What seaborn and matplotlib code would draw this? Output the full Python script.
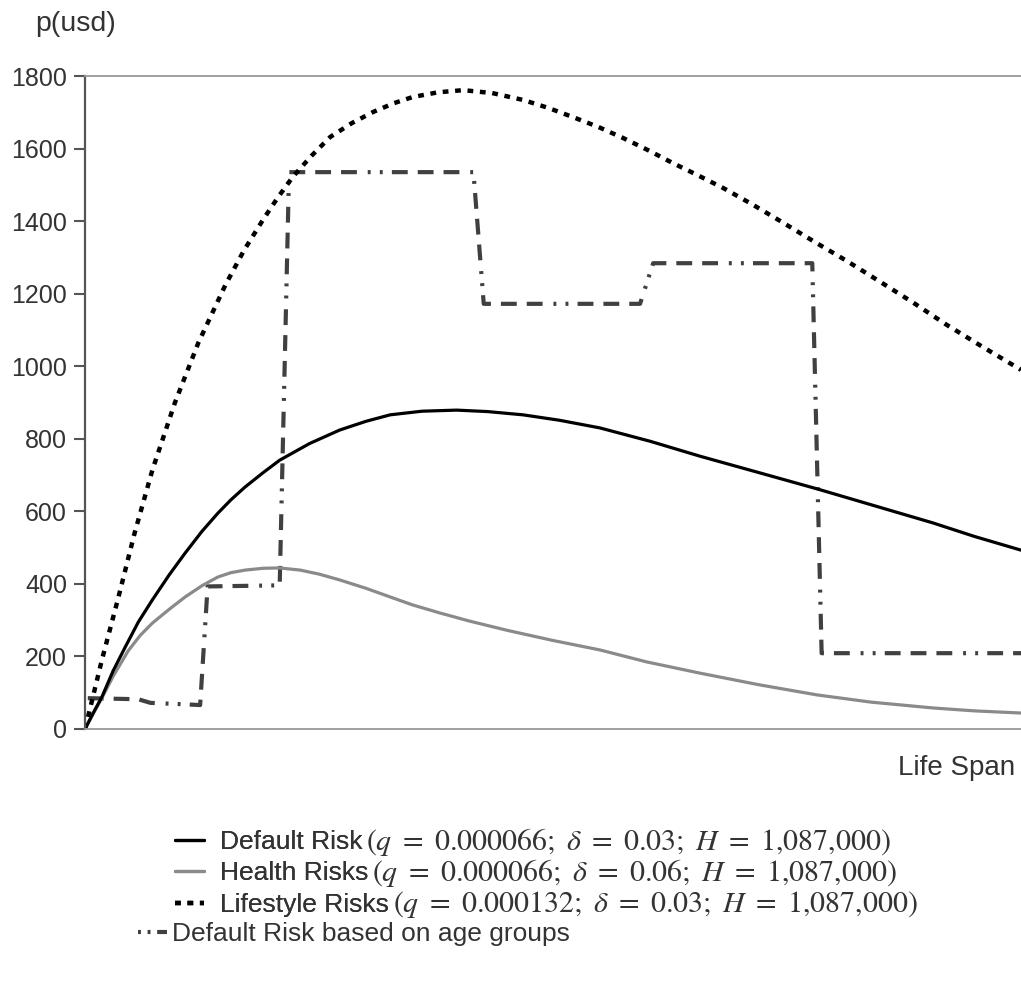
import matplotlib
matplotlib.use("Agg")
import matplotlib.pyplot as plt
from matplotlib.lines import Line2D
import seaborn as sns

# values (x = position along life span, 0..100)
default_x = [0, 1, 1.8, 3, 4.3, 5.7, 7.2, 9, 10.7, 12.5, 14.2, 15.6, 17.1, 19, 20.8, 24, 27.2, 30,
             32.6, 36, 39.7, 43, 46.8, 50.7, 55.0, 60.4, 65.7, 72.1, 78.2, 84.4, 90.6, 95, 100]
default_y = [0, 50, 88, 160, 226, 295, 356, 425, 485, 545, 595, 632, 667, 706, 741, 787, 824, 848,
             866, 876, 879, 875, 866, 851, 830, 793, 752, 706, 662, 615, 568, 531, 493]

health_x = [0, 1, 1.8, 3, 4.6, 5.9, 7.2, 9, 10.7, 12.5, 14.2, 15.6, 17.1, 19, 20.8, 23, 25, 27.2,
            30, 32.6, 35, 37.9, 41, 45.1, 50, 55, 60, 65.7, 72, 78.2, 84, 90.6, 95, 100]
health_y = [0, 48, 85, 145, 215, 258, 292, 330, 364, 395, 419, 431, 438, 443, 444, 438, 427, 411,
            388, 364, 342, 320, 298, 272, 244, 218, 185, 154, 122, 94, 74, 58, 50, 44]

lifestyle_x = [0, 0.5, 1.8, 3.5, 5.3, 7.2, 9.6, 12.1, 15.0, 17, 19.0, 20.6, 22.2, 24.2, 26.2, 28.5,
               30.8, 33, 35.0, 37.7, 40.4, 43.5, 46.8, 49.5, 52.1, 54.8, 57.5, 60.2, 62.8, 65.5,
               68.2, 71.3, 74.3, 77.8, 81.4, 85, 88.5, 92, 95.6, 100]
lifestyle_y = [0, 52, 190, 356, 540, 714, 899, 1064, 1224, 1320, 1403, 1465, 1522, 1580, 1632, 1670,
               1701, 1725, 1742, 1755, 1761, 1753, 1734, 1712, 1687, 1660, 1629, 1595, 1560, 1526,
               1491, 1446, 1400, 1345, 1290, 1232, 1175, 1115, 1058, 990]

age_x = [0.3, 5.7, 7.0, 10.7, 12.3, 13.1, 20.8, 21.8, 41.5, 42.6, 59.3, 60.7, 77.7, 78.7, 100]
age_y = [85, 82, 72, 68, 66, 393, 396, 1535, 1535, 1172, 1172, 1284, 1284, 209, 209]

y_ticks = [0, 200, 400, 600, 800, 1000, 1200, 1400, 1600, 1800]

labels = ["Default Risk", "Health Risks", "Lifestyle Risks", "Default Risk based on age groups"]
params = [
    r"$(q\ =\ 0.000066;\ \delta\ =\ 0.03;\ H\ =\ 1{,}087{,}000)$",
    r"$(q\ =\ 0.000066;\ \delta\ =\ 0.06;\ H\ =\ 1{,}087{,}000)$",
    r"$(q\ =\ 0.000132;\ \delta\ =\ 0.03;\ H\ =\ 1{,}087{,}000)$",
]

sns.set_style("white")
plt.rcParams["font.family"] = ["Liberation Sans", "DejaVu Sans"]
plt.rcParams["mathtext.fontset"] = "stix"
text_col = "#333333"

W, H = 1021, 988
fig = plt.figure(figsize=(W / 100, H / 100), dpi=100)
ax = fig.add_axes([85 / W, 1 - 729 / H, 1 - 85 / W, (729 - 76) / H])

step_dash = (0, (3.8, 2.4, 3.8, 2.4, 3.8, 2.6, 0.7, 2.2, 0.7, 2.2))

sns.lineplot(x=age_x, y=age_y, ax=ax, color="#404040", lw=3.0, estimator=None, sort=False,
             label=labels[3])
ax.lines[-1].set_linestyle(step_dash)
ax.lines[-1].set_dash_capstyle("butt")
sns.lineplot(x=health_x, y=health_y, ax=ax, color="#8a8a8a", lw=2.3, estimator=None, sort=False,
             label=labels[1])
sns.lineplot(x=default_x, y=default_y, ax=ax, color="black", lw=2.3, estimator=None, sort=False,
             label=labels[0])
sns.lineplot(x=lifestyle_x, y=lifestyle_y, ax=ax, color="black", lw=3.2, estimator=None, sort=False,
             label=labels[2])
ax.lines[-1].set_linestyle((0, (1.3, 1.5)))
ax.lines[-1].set_dash_capstyle("butt")

ax.set_xlim(0, 100)
ax.set_ylim(0, 1800)
ax.set_xticks([])
ax.set_yticks(y_ticks)
ax.set_yticklabels([str(v) for v in y_ticks])
ax.tick_params(axis="y", direction="out", length=8, width=1.5, color="#555555",
               labelsize=18, labelcolor=text_col, pad=5, left=True)
ax.set_xlabel("")
ax.set_ylabel("")
for s in ["top", "bottom"]:
    ax.spines[s].set_color("#999999")
    ax.spines[s].set_linewidth(1.3)
ax.spines["left"].set_color("#555555")
ax.spines["left"].set_linewidth(1.6)
ax.spines["right"].set_visible(False)

fig.text(35 / W, 1 - 24 / H, "p(usd)", fontsize=20.5, color=text_col, ha="left", va="center")
fig.text(1015 / W, 1 - 768 / H, "Life Span", fontsize=20, color=text_col, ha="right", va="center")

ax.get_legend().remove()
h = {l.get_label(): l for l in ax.lines}
fs = 19
leg1 = fig.legend([h[labels[0]], h[labels[1]], h[labels[2]]], labels[:3],
                  loc="upper left", bbox_to_anchor=(175 / W, 1 - 830 / H),
                  bbox_transform=fig.transFigure, frameon=False, fontsize=fs,
                  borderpad=0, borderaxespad=0, handlelength=1.1, handletextpad=0.6,
                  labelspacing=0.28, labelcolor=text_col)
age_handle = Line2D([], [], color="#404040", lw=3.0,
                    linestyle=(0, (0.7, 1.6, 0.7, 1.6, 3.2, 1.0)))
leg2 = fig.legend([age_handle], [labels[3]],
                  loc="upper left", bbox_to_anchor=(138 / W, 1 - 922 / H),
                  bbox_transform=fig.transFigure, frameon=False, fontsize=fs,
                  borderpad=0, borderaxespad=0, handlelength=1.1, handletextpad=0.2,
                  labelcolor=text_col)
fig.add_artist(leg1)

# parameter part of each legend entry, set in a serif math face after the label
fig.canvas.draw()
renderer = fig.canvas.get_renderer()
for t, p in zip(leg1.get_texts(), params):
    bb = t.get_window_extent(renderer)
    fig.text((bb.x1 + 4) / W, (bb.y0 + bb.y1) / 2 / H, p, fontsize=21.5, color=text_col,
             ha="left", va="center")

fig.savefig("out.png", dpi=100)
